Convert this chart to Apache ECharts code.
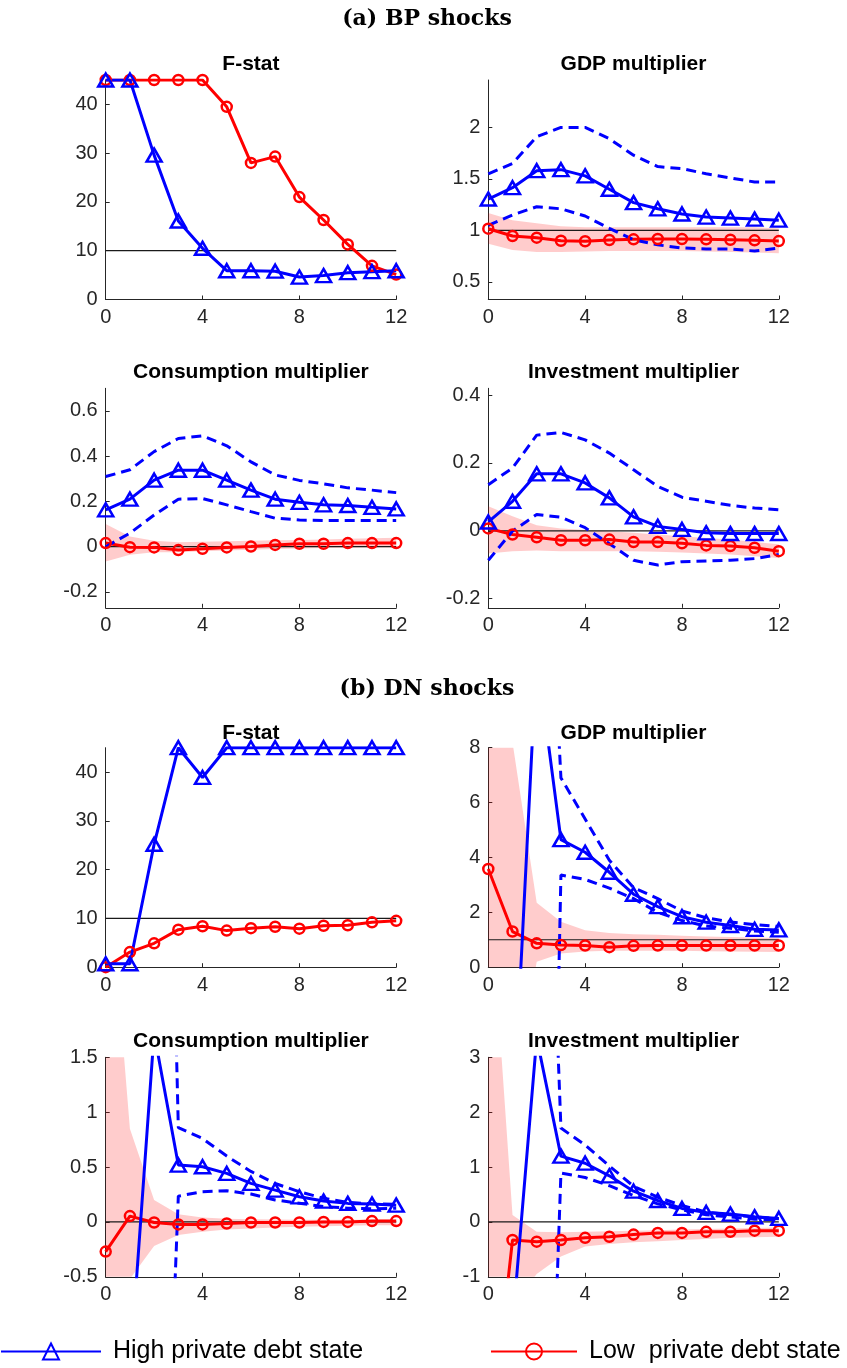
<!DOCTYPE html>
<html>
<head>
<meta charset="utf-8">
<script src="https://cdn.jsdelivr.net/npm/echarts@6/dist/echarts.min.js"></script>
<style>
  html, body { margin: 0; padding: 0; background: #ffffff; }
  #chart { width: 847px; height: 1368px; }
</style>
</head>
<body>
<div id="chart"></div>
<script>
// Horizon (quarters after the shock) and axis ticks
const horizon = [0, 1, 2, 3, 4, 5, 6, 7, 8, 9, 10, 11, 12];
const xTicks = [0, 4, 8, 12];

const HIGH = 'High private debt state';
const LOW = 'Low  private debt state';

// ---- (a) BP shocks ----
const bpFstatHigh = [45, 45, 29.6, 16.1, 10.5, 5.9, 5.9, 5.8, 4.6, 4.9, 5.5, 5.7, 5.9];
const bpFstatLow  = [45, 45, 45, 45, 45, 39.5, 28.0, 29.3, 21.0, 16.3, 11.3, 6.9, 5.1];

const bpGdpHigh   = [1.305, 1.415, 1.58, 1.59, 1.53, 1.40, 1.27, 1.21, 1.16, 1.13, 1.12, 1.11, 1.10];
const bpGdpHighUp = [1.55, 1.65, 1.91, 2.0, 2.0, 1.89, 1.73, 1.62, 1.60, 1.55, 1.51, 1.47, 1.47];
const bpGdpHighLo = [1.05, 1.15, 1.23, 1.21, 1.14, 1.02, 0.91, 0.86, 0.83, 0.82, 0.82, 0.80, 0.83];
const bpGdpLow    = [1.017, 0.946, 0.93, 0.90, 0.895, 0.907, 0.914, 0.917, 0.917, 0.914, 0.91, 0.904, 0.897];
const bpGdpLowUp  = [1.17, 1.10, 1.07, 1.04, 1.03, 1.03, 1.03, 1.03, 1.03, 1.03, 1.03, 1.03, 1.02];
const bpGdpLowLo  = [0.87, 0.81, 0.79, 0.79, 0.795, 0.80, 0.80, 0.80, 0.80, 0.795, 0.79, 0.785, 0.78];

const bpConHigh   = [0.163, 0.21, 0.294, 0.338, 0.338, 0.294, 0.25, 0.21, 0.196, 0.185, 0.182, 0.174, 0.167];
const bpConHighUp = [0.31, 0.34, 0.42, 0.478, 0.49, 0.446, 0.375, 0.317, 0.293, 0.278, 0.26, 0.25, 0.239];
const bpConHighLo = [0.0, 0.06, 0.14, 0.21, 0.213, 0.185, 0.155, 0.126, 0.118, 0.116, 0.116, 0.116, 0.116];
const bpConLow    = [0.016, -0.002, -0.003, -0.015, -0.009, -0.003, 0.001, 0.008, 0.013, 0.013, 0.016, 0.016, 0.016];
const bpConLowUp  = [0.10, 0.045, 0.026, 0.02, 0.022, 0.024, 0.026, 0.028, 0.03, 0.032, 0.035, 0.037, 0.04];
const bpConLowLo  = [-0.065, -0.036, -0.024, -0.024, -0.02, -0.017, -0.013, -0.01, -0.008, -0.006, -0.005, -0.004, -0.003];

const bpInvHigh   = [0.026, 0.087, 0.168, 0.168, 0.141, 0.097, 0.041, 0.013, 0.004, -0.006, -0.008, -0.008, -0.008];
const bpInvHighUp = [0.136, 0.185, 0.282, 0.29, 0.268, 0.229, 0.18, 0.131, 0.099, 0.087, 0.075, 0.067, 0.062];
const bpInvHighLo = [-0.087, -0.001, 0.048, 0.04, 0.009, -0.038, -0.087, -0.101, -0.091, -0.089, -0.087, -0.082, -0.07];
const bpInvLow    = [0.007, -0.011, -0.019, -0.028, -0.028, -0.026, -0.033, -0.033, -0.037, -0.043, -0.045, -0.05, -0.06];
const bpInvLowUp  = [0.072, 0.043, 0.016, 0.007, 0.002, -0.001, -0.006, -0.011, -0.016, -0.021, -0.026, -0.033, -0.04];
const bpInvLowLo  = [-0.067, -0.06, -0.058, -0.06, -0.06, -0.06, -0.06, -0.062, -0.064, -0.067, -0.07, -0.075, -0.08];

// ---- (b) DN shocks ----
const dnFstatHigh = [0.7, 0.7, 25.2, 45, 38.9, 45, 45, 45, 45, 45, 45, 45, 45];
const dnFstatLow  = [0, 3.1, 4.9, 7.7, 8.4, 7.5, 8.0, 8.3, 7.9, 8.5, 8.6, 9.2, 9.5];

const dnGdpHigh   = [-14, -6, 11.4, 4.65, 4.19, 3.46, 2.66, 2.21, 1.84, 1.64, 1.52, 1.38, 1.36];
const dnGdpHighUp = [40, 60, 24, 6.9, 5.4, 3.9, 2.9, 2.5, 2.05, 1.8, 1.65, 1.55, 1.48];
const dnGdpHighLo = [-60, -80, -38.6, 3.36, 3.2, 2.88, 2.5, 2.0, 1.7, 1.5, 1.42, 1.32, 1.27];
const dnGdpLow    = [3.58, 1.30, 0.87, 0.81, 0.79, 0.73, 0.78, 0.79, 0.79, 0.79, 0.79, 0.79, 0.79];
const dnGdpLowUp  = [30, 8.2, 2.35, 1.66, 1.35, 1.25, 1.2, 1.18, 1.15, 1.12, 1.1, 1.08, 1.06];
const dnGdpLowLo  = [-30, -5, 0.2, 0.5, 0.57, 0.6, 0.6, 0.6, 0.6, 0.58, 0.57, 0.56, 0.55];

const dnConHigh   = [-4, -1.36, 1.72, 0.518, 0.503, 0.442, 0.351, 0.29, 0.229, 0.19, 0.169, 0.163, 0.153];
const dnConHighUp = [8, 15, 9.9, 0.86, 0.76, 0.6, 0.46, 0.35, 0.275, 0.215, 0.178, 0.165, 0.16];
const dnConHighLo = [-8, -12, -5.5, 0.235, 0.275, 0.284, 0.254, 0.2, 0.17, 0.14, 0.125, 0.12, 0.125];
const dnConLow    = [-0.27, 0.053, -0.005, -0.023, -0.023, -0.014, -0.005, -0.005, -0.005, 0, 0, 0.008, 0.008];
const dnConLowUp  = [3.56, 0.85, 0.2, 0.07, 0.04, 0.03, 0.025, 0.022, 0.02, 0.02, 0.02, 0.02, 0.02];
const dnConLowLo  = [-3, -0.52, -0.22, -0.12, -0.09, -0.07, -0.06, -0.05, -0.045, -0.04, -0.035, -0.03, -0.03];

const dnInvHigh   = [-6, -1.9, 3.35, 1.2, 1.07, 0.84, 0.56, 0.39, 0.246, 0.173, 0.143, 0.094, 0.064];
const dnInvHighUp = [15, 20, 13.4, 1.71, 1.4, 1.02, 0.65, 0.45, 0.3, 0.18, 0.13, 0.09, 0.06];
const dnInvHighLo = [-15, -20, -11.7, 0.89, 0.81, 0.66, 0.48, 0.33, 0.22, 0.13, 0.09, 0.05, 0.04];
const dnInvLow    = [-4.3, -0.33, -0.36, -0.33, -0.29, -0.27, -0.23, -0.2, -0.2, -0.18, -0.18, -0.16, -0.16];
const dnInvLowUp  = [6.5, 0.125, -0.18, -0.19, -0.18, -0.17, -0.16, -0.15, -0.14, -0.13, -0.12, -0.11, -0.1];
const dnInvLowLo  = [-6, -1.5, -0.95, -0.63, -0.45, -0.4, -0.37, -0.35, -0.33, -0.31, -0.29, -0.28, -0.27];

// Y tick labels per panel
const fstatTicks = [0, 10, 20, 30, 40];
const bpGdpTicks = [0.5, 1, 1.5, 2];
const bpConTicks = [-0.2, 0, 0.2, 0.4, 0.6];
const bpInvTicks = [-0.2, 0, 0.2, 0.4];
const dnGdpTicks = [0, 2, 4, 6, 8];
const dnConTicks = [-0.5, 0, 0.5, 1, 1.5];
const dnInvTicks = [-1, 0, 1, 2, 3];

// Panel layout (pixels)
const colLeft = [105.7, 488.3];
const colWidth = 290.5;
const rowTop = [80, 388.3, 747.7, 1057.3];
const rowHeight = 219.5;
const titleY = [64, 372, 733, 1041];

const panels = [
  { title: 'F-stat', row: 0, col: 0, yMin: 0, yMax: 45, ticks: fstatTicks, ref: 10,
    high: bpFstatHigh, low: bpFstatLow },
  { title: 'GDP multiplier', row: 0, col: 1, yMin: 0.33, yMax: 2.46, ticks: bpGdpTicks, ref: 1,
    high: bpGdpHigh, highUp: bpGdpHighUp, highLo: bpGdpHighLo, low: bpGdpLow, lowUp: bpGdpLowUp, lowLo: bpGdpLowLo },
  { title: 'Consumption multiplier', row: 1, col: 0, yMin: -0.27, yMax: 0.70, ticks: bpConTicks, ref: 0,
    high: bpConHigh, highUp: bpConHighUp, highLo: bpConHighLo, low: bpConLow, lowUp: bpConLowUp, lowLo: bpConLowLo },
  { title: 'Investment multiplier', row: 1, col: 1, yMin: -0.227, yMax: 0.42, ticks: bpInvTicks, ref: 0,
    high: bpInvHigh, highUp: bpInvHighUp, highLo: bpInvHighLo, low: bpInvLow, lowUp: bpInvLowUp, lowLo: bpInvLowLo },
  { title: 'F-stat', row: 2, col: 0, yMin: 0, yMax: 45, ticks: fstatTicks, ref: 10,
    high: dnFstatHigh, low: dnFstatLow },
  { title: 'GDP multiplier', row: 2, col: 1, yMin: 0, yMax: 8, ticks: dnGdpTicks, ref: 1,
    high: dnGdpHigh, highUp: dnGdpHighUp, highLo: dnGdpHighLo, low: dnGdpLow, lowUp: dnGdpLowUp, lowLo: dnGdpLowLo },
  { title: 'Consumption multiplier', row: 3, col: 0, yMin: -0.5, yMax: 1.5, ticks: dnConTicks, ref: 0,
    high: dnConHigh, highUp: dnConHighUp, highLo: dnConHighLo, low: dnConLow, lowUp: dnConLowUp, lowLo: dnConLowLo },
  { title: 'Investment multiplier', row: 3, col: 1, yMin: -1, yMax: 3, ticks: dnInvTicks, ref: 0,
    high: dnInvHigh, highUp: dnInvHighUp, highLo: dnInvHighLo, low: dnInvLow, lowUp: dnInvLowUp, lowLo: dnInvLowLo }
];

const BLUE = '#0000ff';
const RED = '#ff0000';
const AXIS = '#262626';
const TICK_FONT = 20;
const LINE_W = 3;

function pairs(vals) { return horizon.map((h, k) => [h, vals[k]]); }

// Shaded confidence band drawn as one polygon through the axis scales
function bandSeries(idx, up, lo) {
  return {
    type: 'custom', xAxisIndex: idx, yAxisIndex: idx, clip: true, silent: true,
    data: horizon.map((h, k) => [h, lo[k], up[k]]),
    encode: { x: 0, y: [1, 2] },
    renderItem(params, api) {
      if (params.dataIndex !== 0) return null;
      const top = horizon.map((h, k) => api.coord([h, up[k]]));
      const bottom = horizon.map((h, k) => api.coord([h, lo[k]])).reverse();
      return { type: 'polygon', shape: { points: top.concat(bottom) },
               style: { fill: 'rgba(255,0,0,0.2)', stroke: null } };
    }
  };
}

const grids = [], xAxes = [], yAxes = [], series = [], graphics = [];

panels.forEach((p, i) => {
  const left = colLeft[p.col], top = rowTop[p.row];
  grids.push({ left: left, top: top, width: colWidth, height: rowHeight, containLabel: false });
  xAxes.push({
    gridIndex: i, type: 'value', min: 0, max: 12, interval: 4,
    axisLine: { show: true, onZero: false, lineStyle: { color: AXIS, width: 1 } },
    axisTick: { show: true, inside: true, length: 4, lineStyle: { color: AXIS } },
    axisLabel: { color: AXIS, fontSize: TICK_FONT, margin: 8, customValues: xTicks },
    splitLine: { show: false }
  });
  yAxes.push({
    gridIndex: i, type: 'value', min: p.yMin, max: p.yMax,
    axisLine: { show: true, onZero: false, lineStyle: { color: AXIS, width: 1 } },
    axisTick: { show: true, inside: true, length: 4, lineStyle: { color: AXIS }, customValues: p.ticks },
    axisLabel: { color: AXIS, fontSize: TICK_FONT, margin: 8, customValues: p.ticks },
    splitLine: { show: false }
  });

  if (p.lowUp) series.push(bandSeries(i, p.lowUp, p.lowLo));

  // reference level
  series.push({
    type: 'line', xAxisIndex: i, yAxisIndex: i, silent: true, symbol: 'none',
    data: [[0, p.ref], [12, p.ref]],
    lineStyle: { color: '#1a1a1a', width: 1.2 }
  });

  // low private debt state
  series.push({
    name: LOW, type: 'line', xAxisIndex: i, yAxisIndex: i, data: pairs(p.low),
    symbol: 'circle', symbolSize: 10,
    itemStyle: { color: 'rgba(255,255,255,0)', borderColor: RED, borderWidth: 2.5 },
    lineStyle: { color: RED, width: LINE_W }
  });

  // high private debt state: confidence bounds then point estimate
  if (p.highUp) {
    [p.highUp, p.highLo].forEach(b => {
      series.push({
        type: 'line', xAxisIndex: i, yAxisIndex: i, data: pairs(b), symbol: 'none', silent: true,
        lineStyle: { color: BLUE, width: LINE_W, type: [10, 6] }
      });
    });
  }
  series.push({
    name: HIGH, type: 'line', xAxisIndex: i, yAxisIndex: i, data: pairs(p.high),
    symbol: 'triangle', symbolSize: [15, 13],
    itemStyle: { color: 'rgba(255,255,255,0)', borderColor: BLUE, borderWidth: 2.5 },
    lineStyle: { color: BLUE, width: LINE_W }
  });

  graphics.push({
    type: 'text', x: left + colWidth / 2, y: titleY[p.row], z: 100,
    style: { text: p.title, fill: '#000000', fontFamily: 'Liberation Sans', fontWeight: 'bold',
             fontSize: 21, align: 'center', verticalAlign: 'middle' }
  });
});

// Section headings
[['(a) BP shocks', 19], ['(b) DN shocks', 689]].forEach(([t, y]) => {
  graphics.push({
    type: 'text', x: 427, y: y, z: 100,
    style: { text: t, fill: '#000000', fontFamily: 'DejaVu Serif', fontWeight: 'bold',
             fontSize: 22, align: 'center', verticalAlign: 'middle' }
  });
});

const legendText = { fontSize: 25, color: '#000000', fontFamily: 'Liberation Sans', padding: [0, 0, 0, 7] };

const option = {
  animation: false,
  backgroundColor: '#ffffff',
  textStyle: { fontFamily: 'Liberation Sans' },
  grid: grids,
  xAxis: xAxes,
  yAxis: yAxes,
  series: series,
  graphic: graphics,
  legend: [
    { data: [HIGH], left: 0, top: 1339, padding: 0, itemWidth: 100, itemHeight: 20,
      selectedMode: false, textStyle: legendText },
    { data: [LOW], left: 490, top: 1339, padding: 0, itemWidth: 86, itemHeight: 20,
      selectedMode: false, textStyle: legendText }
  ]
};

const chart = echarts.init(document.getElementById('chart'), null, { renderer: 'canvas' });
chart.setOption(option);
</script>
</body>
</html>
